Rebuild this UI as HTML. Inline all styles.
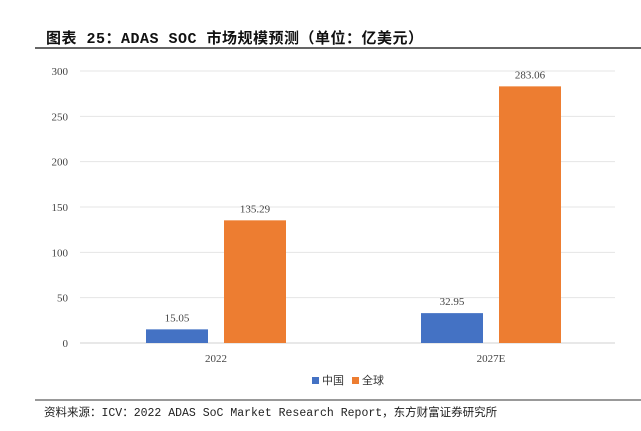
<!DOCTYPE html>
<html><head><meta charset="utf-8"><style>
body{margin:0;width:641px;height:426px;background:#fff;overflow:hidden;font-family:"Liberation Sans","Noto Sans CJK SC",sans-serif;}
</style></head><body>
<svg width="641" height="426">
<text x="46" y="43" font-size="15" font-weight="bold" fill="#111" font-family="Liberation Mono, Noto Sans CJK SC, sans-serif" letter-spacing="0.5">图表 25：ADAS SOC 市场规模预测（单位：亿美元）</text>
<line x1="35" y1="48" x2="641" y2="48" stroke="#333" stroke-width="1.5"/>
<g id="plot"></g>
<g>
<rect x="312" y="377" width="7" height="7" fill="#4472c4"/>
<text x="322" y="384" font-size="11" fill="#333">中国</text>
<rect x="352" y="377" width="7" height="7" fill="#ed7d31"/>
<text x="362" y="384" font-size="11" fill="#333">全球</text>
</g>
<line x1="35" y1="400" x2="641" y2="400" stroke="#333" stroke-width="1"/>
<text x="44" y="416" font-size="11.5" fill="#222" font-family="Liberation Mono, Noto Sans CJK SC, sans-serif">资料来源：ICV：2022 ADAS SoC Market Research Report，东方财富证券研究所</text>
</svg>
<script>
const categories=["2022","2027E"];
const chinaValues=[15.05,32.95];
const globalValues=[135.29,283.06];
const tickValues=[0,50,100,150,200,250,300];
const svgNS="http://www.w3.org/2000/svg";
const g=document.getElementById('plot');
const gx0=80,gx1=615,x0=78.5,bandW=275,y0=343,yTop=71,maxV=300;
const yS=v=>y0-(v/maxV)*(y0-yTop);
const xC=i=>x0+bandW*(i+0.5);
function mk(t,a){const e=document.createElementNS(svgNS,t);for(const k in a)e.setAttribute(k,a[k]);g.appendChild(e);return e;}
tickValues.forEach(v=>{
 const l=mk('line',{x1:gx0,x2:gx1,y1:yS(v),y2:yS(v),stroke:v===0?'#d0d0d0':'#e4e4e4','stroke-width':1});
 
 
 const t=mk('text',{x:68,y:yS(v)+4,'text-anchor':'end','font-size':11,fill:'#444','font-family':'Liberation Serif, serif'});
 t.textContent=v;
 
 
});
const bw=62;
categories.forEach((c,i)=>{
 [[chinaValues,'#4472c4',-70,'china'],[globalValues,'#ed7d31',8,'global']].forEach(([arr,col,off,nm])=>{
  const v=arr[i];const x=xC(i)+off;
  const r=mk('rect',{x:x,y:yS(v),width:bw,height:y0-yS(v),fill:col});
  
  
  const t=mk('text',{x:x+bw/2,y:yS(v)-8,'text-anchor':'middle','font-size':11,fill:'#444','font-family':'Liberation Serif, serif'});
  t.textContent=v.toFixed(2);
  
  
 });
 const t=mk('text',{x:xC(i),y:362,'text-anchor':'middle','font-size':11,fill:'#444','font-family':'Liberation Serif, serif'});
 t.textContent=c;
 
 
});
</script>
</body></html>
